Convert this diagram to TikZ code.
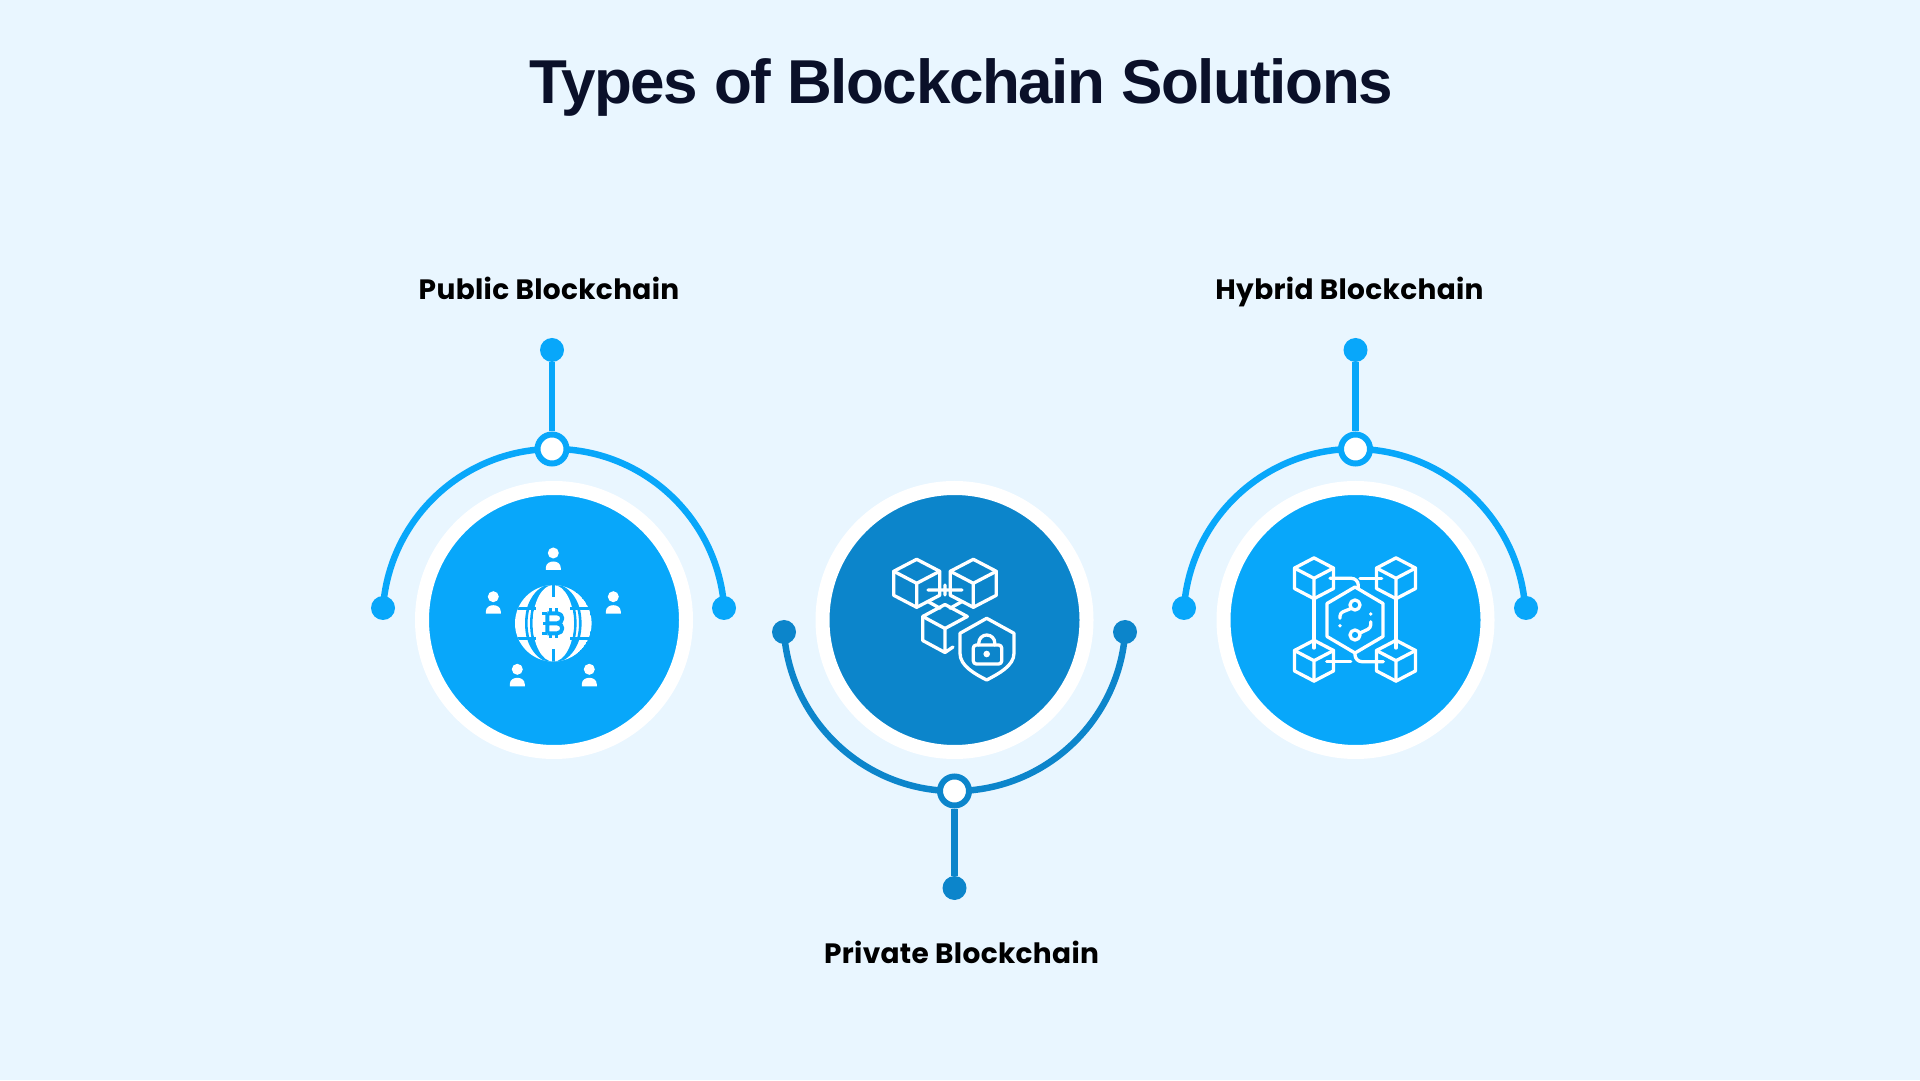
\documentclass[tikz,border=0pt]{standalone}
\usepackage{fontspec}
\newfontfamily\headfont[LetterSpace=-2.2]{Liberation Sans}
\newfontfamily\labfont[LetterSpace=1.2]{Poppins}
\usetikzlibrary{positioning,backgrounds}
\definecolor{pagebg}{HTML}{E9F6FF}
\definecolor{sky}{HTML}{08A7FA}
\definecolor{deep}{HTML}{0C85CB}
\definecolor{ink}{HTML}{0A1029}

\tikzset{
  disc/.style={circle,fill=#1,draw=white,line width=14pt,minimum size=264pt,inner sep=0pt},
  dot/.style={circle,fill=#1,minimum size=24pt,inner sep=0pt},
  hub/.style={circle,fill=white,draw=#1,line width=6pt,minimum size=29pt,inner sep=0pt},
  link/.style={draw=#1,line width=6.5pt},
  lab/.style={font=\labfont\bfseries\fontsize{28}{30}\selectfont,text=black,inner sep=0pt,text height=21pt,text depth=0pt},
  icon/.style={draw=white,line width=3.3pt,line cap=round,line join=round},
  cubeicon/.pic={
    \draw[icon] (0,24)--(23,12)--(23,-12)--(0,-24)--(-23,-12)--(-23,12)--cycle;
    \draw[icon] (-23,12)--(0,0)--(23,12) (0,0)--(0,-24);
  },
  person/.pic={
    \fill[white] (0,0) circle (5.5);
    \fill[white] (-7.5,-17)--(-7.5,-15) .. controls (-7.5,-10) and (-3,-8.5) .. (0,-8.5)
      .. controls (3,-8.5) and (7.5,-10) .. (7.5,-15)--(7.5,-17)--cycle;
  }
}

\begin{document}
\begin{tikzpicture}[x=1pt,y=1pt]
 \useasboundingbox (0,0) rectangle (1920,1080);

 \node[font=\headfont\bfseries\fontsize{62}{70}\selectfont,text=ink,inner sep=0pt] (title) at (961,993) {Types of Blockchain Solutions};

 % public
 \node[disc=sky] (pubC) at (554,460) {};
 \node[hub=sky] (pubH) at (552,631) {};
 \node[dot=sky] (pubT) at (552,730) {};
 \node[dot=sky] (pubL) at (383,472) {};
 \node[dot=sky] (pubR) at (724,472) {};
 \node[lab,above=38pt of pubT,xshift=-3pt] (pubLab) {Public Blockchain};

 % private
 \node[disc=deep] (priC) at (954.5,460) {};
 \node[hub=deep] (priH) at (954.5,289) {};
 \node[dot=deep] (priB) at (954.5,192) {};
 \node[dot=deep] (priL) at (784,448) {};
 \node[dot=deep] (priR) at (1125,448) {};
 \node[lab,below=42pt of priB,xshift=7pt] (priLab) {Private Blockchain};

 % hybrid
 \node[disc=sky] (hybC) at (1355.5,460) {};
 \node[hub=sky] (hybH) at (1355.5,631) {};
 \node[dot=sky] (hybT) at (1355.5,730) {};
 \node[dot=sky] (hybL) at (1184,472) {};
 \node[dot=sky] (hybR) at (1526,472) {};
 \node[lab,above=38pt of hybT,xshift=-6pt] (hybLab) {Hybrid Blockchain};

 \scoped[on background layer]
 {
  \fill[pagebg] (0,0) rectangle (1920,1080);
  \draw[link=sky] (pubT) -- (pubH);
  \draw[link=sky] (pubL.center) arc[start angle=176,end angle=4,radius=171];
  \draw[link=deep] (priB) -- (priH);
  \draw[link=deep] (priL.center) arc[start angle=184,end angle=356,radius=171];
  \draw[link=sky] (hybT) -- (hybH);
  \draw[link=sky] (hybL.center) arc[start angle=176,end angle=4,radius=171];
 }

 % globe icon
 \foreach \px/\py in {553.3/527,493.3/483.3,613.3/483.3,517.3/410.7,589.3/410.7}
   \pic at (\px,\py) {person};
 \begin{scope}[shift={(553.3,456.7)}]
  \begin{scope}
   \clip (0,0) circle (38.3);
   \fill[white] (0,0) circle (38.3);
   \begin{scope}
    \clip (-40,15) rectangle (40,40) (-40,-15) rectangle (40,-40);
    \fill[sky] (0,0) ellipse (28.5 and 39.5);
   \end{scope}
   \begin{scope}
    \clip (-40,-15) rectangle (40,15);
    \draw[sky,line width=2.6pt] (0,0) ellipse (27 and 41);
    \draw[sky,line width=2.6pt] (0,0) ellipse (22 and 40);
   \end{scope}
   \fill[white] (0,0) ellipse (20.5 and 38.3);
   \draw[sky,line width=3pt] (-39,15)--(-17,15) (17,15)--(39,15) (-39,-15)--(-17,-15) (17,-15)--(39,-15);
   \draw[sky,line width=3pt] (0,39)--(0,26) (0,-39)--(0,-26);
  \end{scope}
  \draw[sky,line width=4pt,line join=round] (-6,10)--(4,10) arc[start angle=90,end angle=-90,radius=5]--(-6,0)
     (4,0) arc[start angle=90,end angle=-90,radius=5]--(-6,-10) (-6,10)--(-6,-10);
  \draw[sky,line width=3pt] (-3,10)--(-3,15) (3.5,10)--(3.5,15) (-3,-10)--(-3,-15) (3.5,-10)--(3.5,-15)
     (-6,10)--(-11,10) (-6,-10)--(-11,-10) (-6,0)--(-10,0);
 \end{scope}

 % cubes and lock icon
 \pic at (916.7,496.7) {cubeicon};
 \pic at (973.3,496.7) {cubeicon};
 \draw[icon] (928,490)--(962,490) (945,495)--(945,485)
   (928.3,478.3)--(940,471.7) (950,471.7)--(961.7,478.3);
 \begin{scope}[shift={(945,451.5)}]
  \draw[icon] (0,24)--(22.3,12)--(0,0)--(-22.3,12)--cycle;
  \draw[icon] (-22.3,12)--(-22.3,-12)--(0,-24)--(8,-18.5) (0,0)--(0,-24);
 \end{scope}
 \draw[icon] (986.7,461.7)--(1014,446.7)--(1014,426.7) .. controls (1014,414) and (998,406) .. (986.7,400)
   .. controls (975,406) and (960,414) .. (960,426.7)--(960,446.7)--cycle;
 \draw[icon,rounded corners=3pt] (973.3,416) rectangle (1001.7,435);
 \draw[icon] (978.8,435)--(978.8,437) arc[start angle=180,end angle=0,radius=8]--(994.8,435);
 \fill[white] (986.7,426) circle (3.3);

 % network icon
 \foreach \px/\py in {1314/501.7,1396/501.7,1314/419.3,1396/419.3}
   \pic[scale=.85] at (\px,\py) {cubeicon};
 \draw[icon] (1355,493)--(1383,476.5)--(1383,443.5)--(1355,427)--(1327,443.5)--(1327,476.5)--cycle;
 \draw[icon] (1314,481.7)--(1314,432) (1396,481.7)--(1396,432);
 \draw[icon,rounded corners=7pt] (1330,501.7)--(1358.3,501.7)--(1358.3,491.7);
 \draw[icon] (1360,501.7)--(1381.7,501.7) (1326.7,418.3)--(1350.7,418.3);
 \draw[icon,rounded corners=7pt] (1355,427)--(1355,418.3)--(1383.3,418.3);
 \draw[icon] (1355,475) circle (5) (1355,445) circle (5);
 \draw[icon,rounded corners=3pt] (1351,471.5)--(1340,467)--(1340,461.7);
 \draw[icon,rounded corners=3pt] (1370.7,458.3)--(1370.7,452)--(1360,447);
 \fill[white] (1340,454.3) circle (1.9) (1370.7,466) circle (1.9);
\end{tikzpicture}
\end{document}
